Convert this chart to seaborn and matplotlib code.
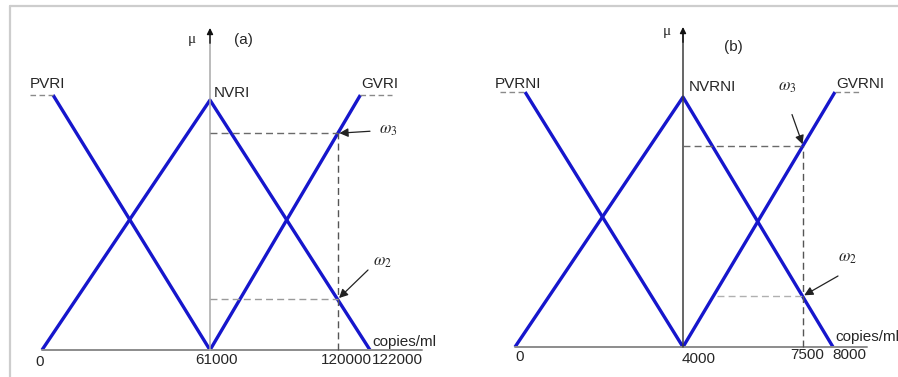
import numpy as np
import pandas as pd
import matplotlib
matplotlib.use("Agg")
import matplotlib.pyplot as plt
from matplotlib.lines import Line2D
import seaborn as sns

# ---- membership functions, panel (a): viral load, copies/ml ----
a_sets = ["PVRI", "NVRI", "GVRI"]
a_pvri_x = [4000, 61000]
a_pvri_mu = [1.0, 0.0]
a_nvri_x = [0, 61000, 122000]
a_nvri_mu = [0.0, 0.98, 0.0]
a_gvri_x = [61000, 121400]
a_gvri_mu = [0.0, 1.0]
a_pvri_shoulder = [-4400, 4000]
a_gvri_shoulder = [121400, 130200]
a_ticks = [0, 61000, 120000, 122000]
a_tick_labels = ["0", "61000", "120000", "122000"]
a_x_read = 120000
a_omega3 = 0.85
a_omega2 = 0.20

# ---- membership functions, panel (b) ----
b_sets = ["PVRNI", "NVRNI", "GVRNI"]
b_pvrni_x = [240, 4000]
b_pvrni_mu = [1.0, 0.0]
b_nvrni_x = [0, 4000, 8000]
b_nvrni_mu = [0.0, 0.98, 0.0]
b_gvrni_x = [4000, 8050]
b_gvrni_mu = [0.0, 1.0]
b_pvrni_shoulder = [-360, 240]
b_gvrni_shoulder = [8050, 8680]
b_ticks = [0, 4000, 7500, 8000]
b_tick_labels = ["0", "4000", "7500", "8000"]
b_x_read = 7500
b_omega3 = 0.79
b_omega2 = 0.20
b_omega2_from = 5000

sns.set_style("white")
plt.rcParams["font.family"] = ["Liberation Sans", "DejaVu Sans"]
plt.rcParams["mathtext.fontset"] = "stix"

BLUE = "#1616cc"
TXT = "#262626"
W, H = 898, 377

fig = plt.figure(figsize=(W / 100, H / 100), dpi=100)


def px_axes(x0, x1, y_base, y_top):
    return fig.add_axes([x0 / W, (H - y_base) / H, (x1 - x0) / W, (y_base - y_top) / H])


def piecewise_scale(knots, marks, hi_slope):
    """Piecewise-linear axis scale (the drawing is not to scale)."""
    lo_slope = (marks[1] - marks[0]) / (knots[1] - knots[0])
    kd = [knots[0] - 1e6] + list(knots) + [knots[-1] + 1e6]
    kp = [marks[0] - 1e6 * lo_slope] + list(marks) + [marks[-1] + 1e6 * hi_slope]
    fwd = lambda v: np.interp(v, kd, kp)
    inv = lambda v: np.interp(v, kp, kd)
    return fwd, inv


def note(ax, text, xy, off, **kw):
    kw.setdefault("fontsize", 11)
    kw.setdefault("color", TXT)
    return ax.annotate(text, xy=xy, xytext=off, textcoords="offset pixels",
                       annotation_clip=False, **kw)


def panel(ax, funcs, names, shoulders, ticks, tick_labels, tick_fmt, x_read,
          om3, om2, om2_from, axis_ext, mu_top, axis_col, om2_col,
          name_offs, mu_off, tag, tag_off, unit, unit_off, om_offs):
    rows = []
    for name, (xs, ms) in zip(names, funcs):
        for x, m in zip(xs, ms):
            rows.append({"x": x, "mu": m, "set": name})
    df = pd.DataFrame(rows)
    sns.lineplot(data=df, x="x", y="mu", units="set", estimator=None, sort=False,
                 color=BLUE, lw=2.4, ax=ax, legend=False)
    for ln in ax.lines:
        ln.set_clip_on(False)
        ln.set_solid_capstyle("butt")

    # flat shoulders beyond the universe
    for sx in shoulders:
        ax.plot(sx, [1, 1], ls=(0, (4, 2.5)), color="#8a8a8a", lw=1.0, clip_on=False)

    # axes
    ax.plot([0, axis_ext], [0, 0], transform=ax.transAxes, color="#8c8c8c",
            lw=1.4, clip_on=False)
    ax.plot([ticks[1], ticks[1]], [0, mu_top - 0.02], color=axis_col, lw=1.1,
            clip_on=False)
    ax.annotate("", xy=(ticks[1], mu_top), xytext=(ticks[1], mu_top - 0.06),
                annotation_clip=False,
                arrowprops=dict(arrowstyle="-|>", color="#111", lw=1.0,
                                mutation_scale=9, shrinkA=0, shrinkB=0))

    # read-off guides
    ax.plot([ticks[1], x_read], [om3, om3], ls=(0, (5, 3)), color="#6a6a6a",
            lw=1.0, clip_on=False)
    ax.plot([x_read, x_read], [0, om3], ls=(0, (5, 3)), color="#555555",
            lw=1.0, clip_on=False)
    ax.plot([om2_from, x_read], [om2, om2], ls=(0, (5, 3)), color=om2_col,
            lw=1.0, clip_on=False)

    # set names
    for name, (xy, off) in zip(names, name_offs):
        note(ax, name, xy, off, ha="left", va="baseline")

    # tick labels along the universe
    for t, lab, (ha, off) in zip(ticks, tick_labels, tick_fmt):
        note(ax, lab, (t, 0), off, ha=ha, va="center")

    note(ax, "μ", (ticks[1], mu_top), mu_off, ha="center", va="center",
         family=["Liberation Serif", "DejaVu Serif"])
    note(ax, tag, (ticks[1], mu_top), tag_off, ha="center", va="center")
    note(ax, unit, (ticks[-1], 0), unit_off, ha="left", va="center")

    # omega pointers
    for lab, yv, (arr_off, txt_off) in zip([r"$\omega_3$", r"$\omega_2$"],
                                          [om3, om2], om_offs):
        ax.annotate("", xy=(x_read, yv), xytext=arr_off, textcoords="offset pixels",
                    annotation_clip=False,
                    arrowprops=dict(arrowstyle="-|>", color="#222", lw=0.9,
                                    mutation_scale=13, shrinkA=0, shrinkB=1))
        note(ax, lab, (x_read, yv), txt_off, ha="center", va="center", fontsize=12)


# panel (a)
ax_a = px_axes(42, 370, 350, 95)
fa, ia = piecewise_scale(a_ticks, [0, 168, 296, 328], 328 / 122000)
ax_a.set_xscale("function", functions=(fa, ia))
ax_a.set_xlim(a_ticks[0], a_ticks[-1])
ax_a.set_ylim(0, 1)
panel(ax_a,
      [(a_pvri_x, a_pvri_mu), (a_nvri_x, a_nvri_mu), (a_gvri_x, a_gvri_mu)],
      a_sets, [a_pvri_shoulder, a_gvri_shoulder], a_ticks, a_tick_labels,
      [("center", (-2, -12)), ("center", (6, -10)), ("right", (34, -10)),
       ("left", (2, -10))],
      a_x_read, a_omega3, a_omega2, a_ticks[1], 1.16, 1.263, "#a8a8a8", "#9a9a9a",
      [((-4400, 1), (0, 7)), ((61000, 0.98), (4, 3)), ((121400, 1), (1, 7))],
      (-18, -12), "(a)", (33, -12), "copies/ml", (2, 8),
      [((32, 2), (50, 3)), ((30, 29), (44, 37))])

# panel (b)
ax_b = px_axes(515, 833, 347, 92)
fb, ib = piecewise_scale(b_ticks, [0, 168, 288, 318], 318 / 8000)
ax_b.set_xscale("function", functions=(fb, ib))
ax_b.set_xlim(b_ticks[0], b_ticks[-1])
ax_b.set_ylim(0, 1)
panel(ax_b,
      [(b_pvrni_x, b_pvrni_mu), (b_nvrni_x, b_nvrni_mu), (b_gvrni_x, b_gvrni_mu)],
      b_sets, [b_pvrni_shoulder, b_gvrni_shoulder], b_ticks, b_tick_labels,
      [("center", (5, -10)), ("left", (-1, -12)), ("center", (4, -8)),
       ("left", (-1, -8))],
      b_x_read, b_omega3, b_omega2, b_omega2_from, 1.107, 1.255, "#3c3c3c", "#b0b0b0",
      [((-360, 1), (-5, 4)), ((4000, 0.98), (6, 6)), ((8050, 1), (1, 4))],
      (-16, -5), "(b)", (50, -20), "copies/ml", (2, 10),
      [((-11, 31), (-16, 58)), ((35, 20), (44, 38))])

for ax in (ax_a, ax_b):
    ax.axis("off")

# outer frame
fig.add_artist(Line2D([10 / W, 1], [1 - 6 / H, 1 - 6 / H], color="#cdcdcd", lw=1.6))
fig.add_artist(Line2D([10 / W, 10 / W], [0, 1 - 6 / H], color="#cdcdcd", lw=1.6))

fig.savefig("out.png", dpi=100)
